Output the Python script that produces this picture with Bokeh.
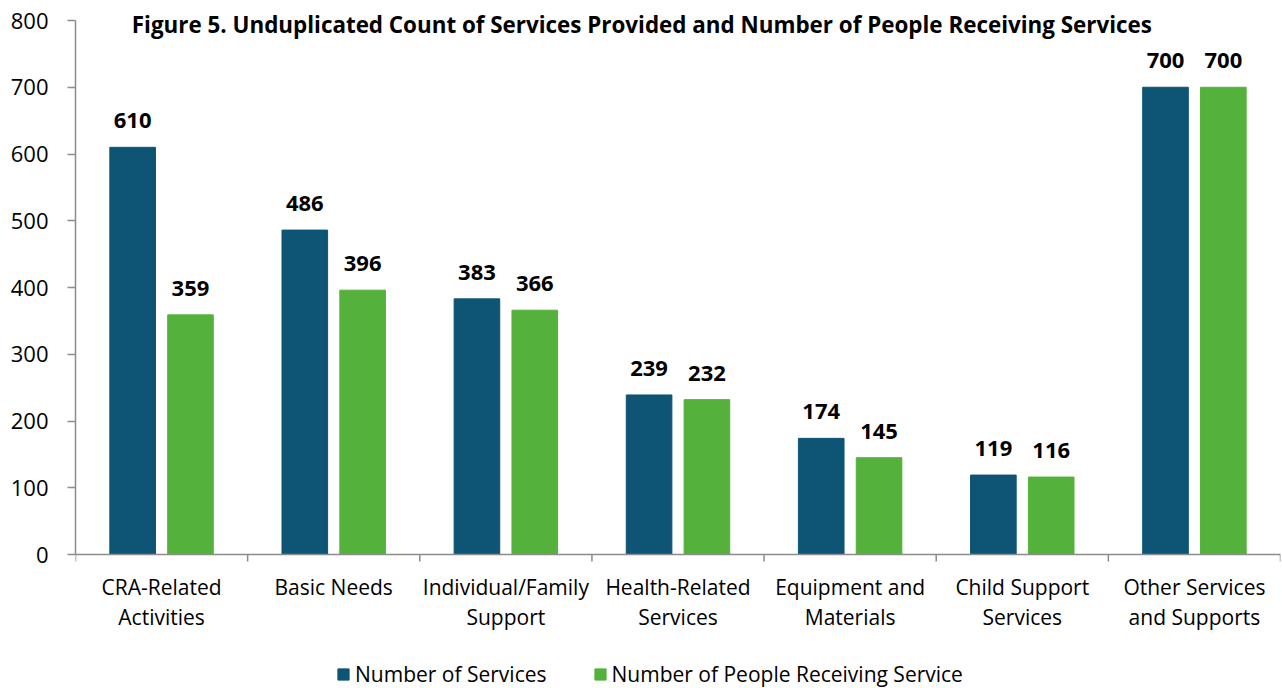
from bokeh.plotting import figure
from bokeh.models import (ColumnDataSource, Range1d, FixedTicker, LinearAxis, Label,
                          LabelSet, Legend, LegendItem, Span)
from bokeh.core.properties import value
from bokeh.transform import dodge
from bokeh.embed import file_html
from bokeh.resources import INLINE

# ---- data ----
categories = ["CRA-Related\nActivities", "Basic Needs", "Individual/Family\nSupport",
              "Health-Related\nServices", "Equipment and\nMaterials",
              "Child Support\nServices", "Other Services\nand Supports"]
services = [610, 486, 383, 239, 174, 119, 700]
people = [359, 396, 366, 232, 145, 116, 700]
series_names = ["Number of Services", "Number of People Receiving Service"]
title_text = "Figure 5. Unduplicated Count of Services Provided and Number of People Receiving Services"
y_ticks = [0, 100, 200, 300, 400, 500, 600, 700, 800]

BLUE = "#0E5475"
GREEN = "#54B23C"
AXIS = "#8C8C8C"
FONT = "Open Sans"

n = len(categories)
centers = [i + 0.5 for i in range(n)]
bounds = list(range(n + 1))
line1 = [c.split("\n")[0] for c in categories]
line2 = [c.split("\n")[1] if "\n" in c else "" for c in categories]
src = ColumnDataSource(dict(
    x=centers, l1=line1, l2=line2, zero=[0] * n, services=services, people=people,
    s_txt=[str(v) for v in services], p_txt=[str(v) for v in people]))

# frame spans the whole canvas height; value 0 sits 134px above the bottom,
# value 800 sits 20px below the top
px_per_unit = 534 / 800
p = figure(width=1282, height=688, output_backend="svg", toolbar_location=None,
           x_range=Range1d(0, n),
           y_range=Range1d(-134 / px_per_unit, 800 + 20 / px_per_unit),
           min_border_left=75, min_border_right=2, min_border_top=0, min_border_bottom=0,
           x_axis_type=None, y_axis_type=None)
p.outline_line_color = None
p.xgrid.visible = False
p.ygrid.visible = False

bw = 0.265
off = 0.168
r1 = p.vbar(x=dodge("x", -off, range=p.x_range), top="services", width=bw, source=src,
            fill_color=BLUE, line_color=BLUE)
r2 = p.vbar(x=dodge("x", off, range=p.x_range), top="people", width=bw, source=src,
            fill_color=GREEN, line_color=GREEN)

# y axis
yax = LinearAxis(ticker=FixedTicker(ticks=y_ticks, minor_ticks=[]), bounds=(0, 800))
yax.axis_line_color = AXIS
yax.axis_line_width = 1.5
yax.major_tick_line_color = AXIS
yax.major_tick_line_width = 1.5
yax.major_tick_out = 8
yax.major_tick_in = 0
yax.minor_tick_line_color = None
yax.major_label_standoff = 19
yax.major_label_text_font = FONT
yax.major_label_text_font_size = "22px"
yax.major_label_text_color = "#000000"
p.add_layout(yax, "left")

# x axis line at value 0, ticks at category boundaries, labels at category centres
p.add_layout(Span(location=0, dimension="width", line_color=AXIS, line_width=1.5))
p.segment(x0=bounds, x1=bounds, y0=[0] * (n + 1), y1=[-7 / px_per_unit] * (n + 1),
          line_color=AXIS, line_width=1.5)
for col, yoff in (("l1", -18), ("l2", -48)):
    p.add_layout(LabelSet(x="x", y="zero", text=col, source=src, text_align="center",
                          text_baseline="top", y_offset=yoff,
                          text_font=value(FONT), text_font_size=value("21px"),
                          text_color="#000000"))

# data labels
for col, txt, sign in (("services", "s_txt", -1), ("people", "p_txt", 1)):
    ls = LabelSet(x=dodge("x", sign * off, range=p.x_range), y=col, text=txt, source=src,
                  text_align="center", text_baseline="alphabetic", y_offset=19,
                  text_font=value(FONT), text_font_size=value("22px"),
                  text_font_style="bold", text_color="#000000")
    p.add_layout(ls)

# title
p.add_layout(Label(x=3.29, y=794, text=title_text, text_align="center",
                   text_baseline="alphabetic", text_font=FONT, text_font_size="22.4px",
                   text_font_style="bold", text_color="#000000"))

# legend
legend = Legend(items=[LegendItem(label=series_names[0], renderers=[r1]),
                       LegendItem(label=series_names[1], renderers=[r2])],
                orientation="horizontal", location=(261, 0),
                glyph_width=14, glyph_height=14, label_standoff=5, spacing=46,
                padding=0, margin=0, border_line_color=None, background_fill_alpha=0,
                label_text_font=FONT, label_text_font_size="21px", label_text_color="#000000")
p.add_layout(legend, "center")

open("out.html", "w").write(file_html(p, INLINE))
